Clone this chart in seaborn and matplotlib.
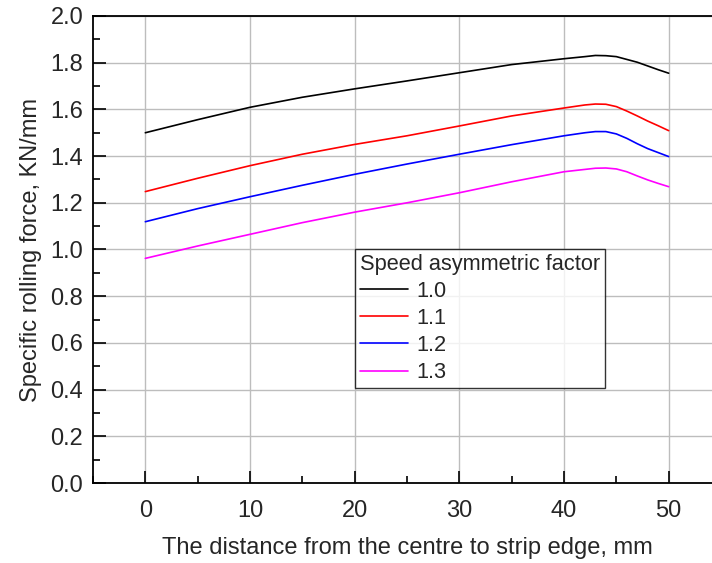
import matplotlib
matplotlib.use("Agg")
import matplotlib.pyplot as plt
from matplotlib.ticker import MultipleLocator
import seaborn as sns
import pandas as pd

x_mm = [0, 5, 10, 15, 20, 25, 30, 35, 40, 42, 43, 44, 45, 46, 47, 48, 49, 50]
f_10 = [1.500, 1.556, 1.609, 1.652, 1.688, 1.722, 1.757, 1.792, 1.817, 1.826, 1.831, 1.830, 1.826, 1.814, 1.802, 1.786, 1.770, 1.755]
f_11 = [1.248, 1.305, 1.359, 1.408, 1.450, 1.487, 1.529, 1.572, 1.606, 1.619, 1.623, 1.622, 1.612, 1.593, 1.572, 1.550, 1.530, 1.509]
f_12 = [1.119, 1.175, 1.226, 1.275, 1.322, 1.366, 1.408, 1.449, 1.487, 1.500, 1.505, 1.505, 1.495, 1.476, 1.453, 1.432, 1.415, 1.398]
f_13 = [0.962, 1.015, 1.065, 1.115, 1.160, 1.200, 1.243, 1.290, 1.333, 1.343, 1.348, 1.349, 1.345, 1.333, 1.315, 1.298, 1.283, 1.269]
factors = ["1.0", "1.1", "1.2", "1.3"]
colors = ["#000000", "#ff0000", "#0000ff", "#ff00ff"]

rows = []
for lab, ys in zip(factors, [f_10, f_11, f_12, f_13]):
    for xv, yv in zip(x_mm, ys):
        rows.append({"x": xv, "y": yv, "factor": lab})
df = pd.DataFrame(rows)

sns.set_style("white")
plt.rcParams["font.family"] = ["Liberation Sans", "DejaVu Sans"]

fig = plt.figure(figsize=(7.12, 5.63), dpi=100)
ax = fig.add_axes([93 / 712, 1 - 483 / 563, (721 - 93) / 712, (483 - 16) / 563])

sns.lineplot(data=df, x="x", y="y", hue="factor", hue_order=factors,
             palette=dict(zip(factors, colors)), linewidth=1.2, ax=ax, zorder=3)

ax.set_xlim(-5, 55)
ax.set_ylim(0, 2.0)
ax.xaxis.set_major_locator(MultipleLocator(10))
ax.xaxis.set_minor_locator(MultipleLocator(5))
ax.yaxis.set_major_locator(MultipleLocator(0.2))
ax.yaxis.set_minor_locator(MultipleLocator(0.1))
ax.yaxis.set_major_formatter(matplotlib.ticker.FormatStrFormatter("%.1f"))
ax.grid(True, which="major", color="#bdbdbd", linewidth=1.0, zorder=0)
ax.set_axisbelow(True)
ax.tick_params(which="major", direction="in", length=9, width=1.2, labelsize=17,
               bottom=True, left=True, top=False, right=False, color="#000000", pad=7)
ax.tick_params(axis="x", which="major", pad=12)
ax.tick_params(which="minor", direction="in", length=5, width=1.2,
               bottom=True, left=True, top=False, right=False, color="#000000")
for s in ["left", "bottom", "top"]:
    ax.spines[s].set_color("#000000")
    ax.spines[s].set_linewidth(1.3)
ax.spines["right"].set_visible(False)

ax.set_xlabel("The distance from the centre to strip edge, mm", fontsize=17, labelpad=11)
ax.set_ylabel("Specific rolling force, KN/mm", fontsize=17, labelpad=6)

leg = ax.legend(title="Speed asymmetric factor", loc="upper left",
                bbox_to_anchor=((355 - 93) / 628, (483 - 249) / 467),
                fontsize=15.7, title_fontsize=15.7, frameon=True, fancybox=False,
                handlelength=2.2, handletextpad=0.4, labelspacing=0.28,
                borderpad=0.22, borderaxespad=0.0)
leg._legend_box.align = "left"
leg.get_frame().set_edgecolor("#000000")
leg.get_frame().set_linewidth(1.0)
for line in leg.get_lines():
    line.set_linewidth(1.2)

fig.savefig("out.png", dpi=100)
